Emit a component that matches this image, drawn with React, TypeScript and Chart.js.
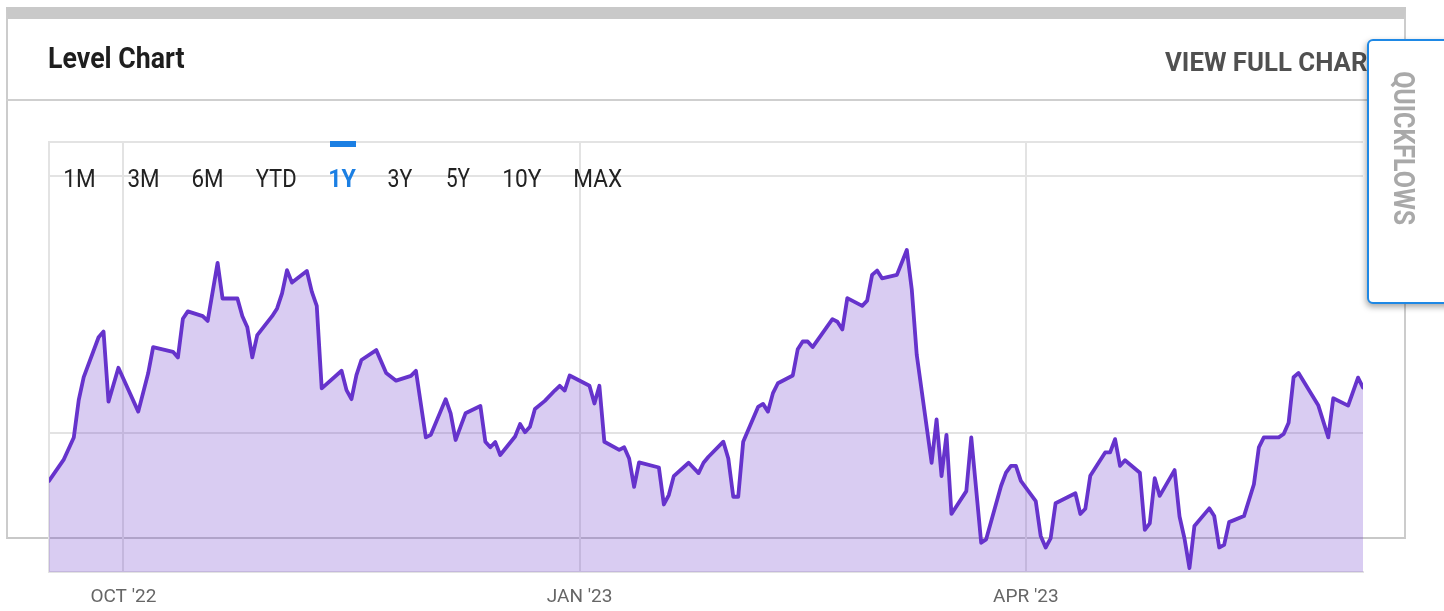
import React, { useEffect, useRef } from 'react';
import { Chart, registerables } from 'chart.js';

Chart.register(...registerables);

// ---- data (days since 1 Oct 2022, level index 0-100) ----
const dayOffsets = [
  -15, -12, -10, -9, -8, -5, -4, -3, -1, 3,
  5, 6, 10, 11, 12, 13, 16, 17, 19, 20,
  23, 24, 25, 26, 27, 30, 31, 32, 33, 34,
  37, 38, 39, 40, 44, 45, 46, 47, 48, 51,
  53, 55, 58, 59, 61, 62, 65, 66, 67, 68,
  69, 72, 73, 74, 75, 76, 79, 80, 81, 82,
  83, 85, 87, 88, 89, 90, 94, 95, 96, 97,
  100, 101, 102, 103, 104, 108, 109, 110, 111, 114,
  116, 117, 118, 121, 122, 123, 124, 125, 128, 129,
  130, 131, 132, 135, 136, 137, 138, 139, 143, 144,
  145, 146, 149, 150, 151, 152, 153, 156, 158, 159,
  160, 163, 164, 165, 166, 167, 170, 171, 173, 174,
  177, 178, 179, 180, 181, 184, 185, 186, 187, 188,
  192, 193, 194, 195, 198, 199, 200, 201, 202, 205,
  206, 207, 208, 209, 212, 213, 214, 215, 216, 219,
  220, 221, 222, 223, 226, 228, 229, 230, 233, 234,
  235, 236, 237, 241, 243, 244, 247, 249, 250,
];

const levels = [
  21.2, 26.2, 31.3, 40.0, 45.3, 54.6, 55.9, 39.6, 47.5, 37.3,
  46.2, 52.3, 51.2, 49.9, 58.9, 60.6, 59.5, 58.4, 71.9, 63.6,
  63.6, 59.5, 56.9, 49.9, 55.1, 59.5, 61.3, 64.8, 70.2, 67.3,
  70.0, 65.2, 61.9, 42.7, 46.8, 42.3, 40.2, 45.8, 49.3, 51.6,
  46.3, 44.5, 45.6, 46.8, 31.3, 31.9, 40.2, 36.9, 30.7, 33.8,
  36.9, 38.6, 30.3, 29.0, 30.2, 27.2, 31.5, 34.4, 32.5, 33.8,
  37.9, 39.8, 42.2, 43.3, 42.2, 45.7, 43.3, 39.2, 43.3, 30.3,
  28.4, 29.0, 26.4, 19.8, 25.5, 24.3, 15.7, 17.9, 22.3, 25.4,
  23.0, 25.4, 26.8, 30.3, 26.4, 17.5, 17.5, 30.3, 38.4, 39.1,
  37.3, 41.6, 43.9, 45.7, 51.8, 53.6, 53.6, 52.3, 58.8, 58.2,
  56.4, 63.7, 61.9, 63.1, 69.1, 70.1, 68.3, 69.1, 74.9, 65.7,
  50.5, 25.4, 35.5, 22.3, 31.9, 13.5, 18.8, 31.3, 6.8, 7.6,
  20.0, 23.1, 24.7, 24.7, 21.2, 16.5, 8.4, 5.7, 7.8, 16.0,
  18.3, 13.5, 14.7, 22.4, 27.8, 27.8, 30.9, 24.7, 26.0, 23.1,
  9.8, 11.3, 21.8, 17.7, 23.7, 12.9, 7.8, 0.9, 10.7, 14.8,
  13.0, 5.7, 6.3, 11.6, 13.0, 20.4, 29.0, 31.3, 31.3, 32.1,
  34.7, 45.3, 46.3, 38.7, 31.3, 40.4, 38.7, 45.2, 42.9,
];

const xTickDays = [0, 92, 182];
const xTickLabels = ["OCT '22", "JAN '23", "APR '23"];
const yGridLevels = [32.3, 92.1, 100];
const rangeLabels = ['1M', '3M', '6M', 'YTD', '1Y', '3Y', '5Y', '10Y', 'MAX'];
const activeRange = '1Y';
const chartTitle = 'Level Chart';
const linkText = 'VIEW FULL CHART';
const tabText = 'QUICKFLOWS';

const rangeInk: [number, number][] = [
  [65, 94.3], [128.3, 158.3], [192.3, 222.3], [255.7, 296], [330, 356],
  [388.3, 412.7], [446.7, 470.5], [504, 542], [575, 622],
];

let measureCtx: CanvasRenderingContext2D | null = null;
function ink(text: string, font: string) {
  if (!measureCtx) measureCtx = document.createElement('canvas').getContext('2d');
  const ctx = measureCtx as CanvasRenderingContext2D;
  ctx.font = font;
  const m = ctx.measureText(text);
  return { off: -m.actualBoundingBoxLeft, w: m.actualBoundingBoxLeft + m.actualBoundingBoxRight };
}

function scaleFor(text: string, weight: number, size: number, inkW: number) {
  const m = ink(text, `${weight} ${size}px Roboto`);
  return inkW / m.w;
}

function FitText(props: {
  text: string; left: number; baseline: number; size: number; weight: number;
  color: string; scale: number; rotate?: boolean;
}) {
  const { text, left, baseline, size, weight, color, scale, rotate } = props;
  const m = ink(text, `${weight} ${size}px Roboto`);
  const tr = rotate
    ? `translate(${baseline},${left - m.off * scale}) rotate(90) scale(${scale},1)`
    : `translate(${left - m.off * scale},${baseline}) scale(${scale},1)`;
  return (
    <text transform={tr} x={0} y={0} fill={color}
      style={{ fontFamily: 'Roboto', fontWeight: weight, fontSize: size }}>
      {text}
    </text>
  );
}

function LevelChart() {
  const ref = useRef<HTMLCanvasElement | null>(null);
  useEffect(() => {
    if (!ref.current) return;
    const points = dayOffsets.map((d, i) => ({ x: d, y: levels[i] }));
    const chart = new Chart(ref.current, {
      type: 'line',
      data: {
        datasets: [{
          data: points,
          borderColor: '#6633cc',
          borderWidth: 3.8,
          backgroundColor: 'rgba(102,51,204,0.25)',
          fill: 'start',
          pointRadius: 0,
          tension: 0,
          borderJoinStyle: 'round',
          borderCapStyle: 'round',
        }],
      },
      options: {
        animation: false,
        responsive: false,
        maintainAspectRatio: false,
        layout: { padding: { left: 49, right: 81, top: 142, bottom: 0 } },
        plugins: { legend: { display: false }, tooltip: { enabled: false } },
        scales: {
          x: {
            type: 'linear',
            min: -15,
            max: 250,
            afterBuildTicks: (s: any) => { s.ticks = xTickDays.map((v) => ({ value: v })); },
            afterFit: (s: any) => { s.height = 39; },
            ticks: {
              autoSkip: false,
              maxRotation: 0,
              padding: 14,
              color: '#666666',
              font: { family: 'Roboto', size: 19 },
              callback: (v: any) => {
                const i = xTickDays.indexOf(Number(v));
                return i >= 0 ? xTickLabels[i] : '';
              },
            },
            grid: { color: '#e3e3e3', lineWidth: 2, drawTicks: false },
            border: { color: '#e3e3e3', width: 2 },
          },
          y: {
            min: 0,
            max: 100,
            afterBuildTicks: (s: any) => { s.ticks = yGridLevels.map((v) => ({ value: v })); },
            afterFit: (s: any) => { s.width = 0; },
            ticks: { display: false },
            grid: { color: '#e3e3e3', lineWidth: 2, drawTicks: false },
            border: { color: '#e3e3e3', width: 2 },
          },
        },
      },
    });
    return () => chart.destroy();
  }, []);
  return (
    <canvas ref={ref} width={1444} height={611}
      style={{ position: 'absolute', left: 0, top: 0, width: 1444, height: 611 }} />
  );
}

export default function App() {
  const titleScale = scaleFor(chartTitle, 700, 29.5, 135.5);
  const linkScale = scaleFor('VIEW FULL CHAR', 700, 25.8, 202);
  const tabScale = scaleFor(tabText, 700, 29.5, 153);
  return (
    <div style={{ position: 'fixed', left: 0, top: 0, width: 1444, height: 611, overflow: 'hidden', background: '#fff' }}>
      {/* card */}
      <div style={{
        position: 'absolute', left: 6, top: 7, width: 1400, height: 532, boxSizing: 'border-box',
        borderTop: '12px solid #c9c9c9', borderLeft: '2px solid #cccccc', borderRight: '2px solid #cccccc',
        borderBottom: '2px solid #c8c8c8', background: '#fff',
      }} />
      <div style={{ position: 'absolute', left: 6, top: 99, width: 1400, height: 2, background: '#cfcfcf' }} />
      <LevelChart />
      <svg width={1444} height={611} style={{ position: 'absolute', left: 0, top: 0 }}>
        <FitText text={chartTitle} left={49} baseline={67.7} size={29.5} weight={700} color="#1e1e1e" scale={titleScale} />
        <FitText text={linkText} left={1165} baseline={71} size={25.8} weight={700} color="#505050" scale={linkScale} />
        <rect x={330} y={141} width={26} height={6} fill="#1b7fe3" />
        {rangeLabels.map((t, i) => {
          const active = t === activeRange;
          const w = active ? 700 : 400;
          const s = scaleFor(t, w, 25.7, rangeInk[i][1] - rangeInk[i][0]);
          return (
            <FitText key={t} text={t} left={rangeInk[i][0]} baseline={187.4} size={25.7} weight={w}
              color={active ? '#1b7fe3' : '#222222'} scale={s} />
          );
        })}
      </svg>
      {/* quickflows tab */}
      <div style={{
        position: 'absolute', left: 1367, top: 39, width: 100, height: 265, boxSizing: 'border-box',
        border: '2px solid #1e88e5', borderRadius: 6, background: '#fff',
        boxShadow: '-1px 3px 6px rgba(0,0,0,0.35)',
      }} />
      <svg width={1444} height={611} style={{ position: 'absolute', left: 0, top: 0, pointerEvents: 'none' }}>
        <FitText text={tabText} left={72} baseline={1393.5} size={29.5} weight={700} color="#a9a9a9" scale={tabScale} rotate />
      </svg>
    </div>
  );
}
